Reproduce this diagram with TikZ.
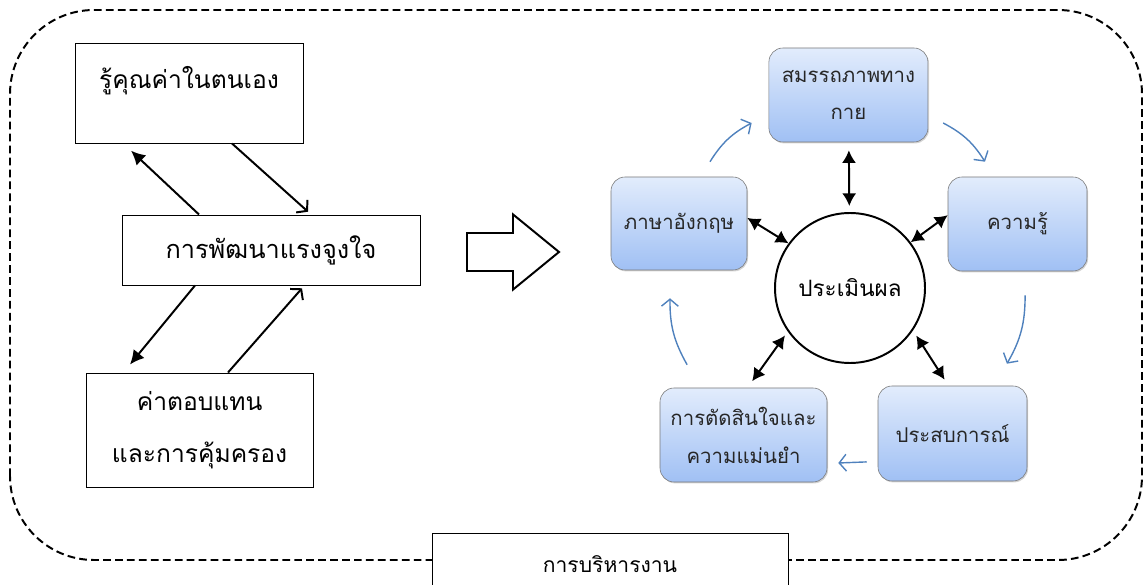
\documentclass[tikz,border=0pt]{standalone}
\usepackage{fontspec}
\setmainfont[Script=Thai]{Loma}
\usepackage{tikz}
\usetikzlibrary{shapes,arrows.meta,positioning,shadows}
\definecolor{cycleblue}{RGB}{79,129,189}
\definecolor{boxtop}{RGB}{226,236,252}
\definecolor{boxbottom}{RGB}{160,192,244}
\definecolor{boxedge}{RGB}{120,120,120}

\begin{document}
\begin{tikzpicture}[
    font=\fontsize{18}{26}\selectfont,
    leftbox/.style={rectangle, draw, line width=0.7pt, fill=white, align=center},
    skill/.style={rectangle, draw=boxedge, rounded corners=0.35cm, top color=boxtop, bottom color=boxbottom, drop shadow={shadow xshift=0.8pt, shadow yshift=-1pt, opacity=0.35}, align=center, text=black!85, font=\fontsize{14.5}{27}\selectfont},
    solidarrow/.style={line width=1.4pt, -{Latex[length=10pt,width=10pt]}},
    openarrow/.style={line width=1.4pt, -{Straight Barb[length=5pt,width=12pt]}},
    dblarrow/.style={line width=1.4pt, {Latex[length=9pt,width=10pt]}-{Latex[length=9pt,width=10pt]}},
    cyclearrow/.style={line width=1pt, draw=cycleblue, -{Straight Barb[length=5pt,width=12pt]}, bend left=15}
]
\useasboundingbox (0,0) rectangle (28.6,14.6);
\clip (0,0) rectangle (28.6,14.6);

% outer frame
\draw[line width=1.4pt, dash pattern=on 5.5pt off 3pt, rounded corners=2.1cm] (0.25,0.6) rectangle (28.55,14.35);

% left side
\node[leftbox, minimum width=5.7cm, minimum height=2.5cm, text height=0.6cm, text depth=0.8cm, font=\fontsize{17.5}{26}\selectfont] (self) at (4.725,12.275) {รู้คุณค่าในตนเอง};
\node[leftbox, minimum width=7.45cm, minimum height=1.75cm] (motive) at (6.775,8.35) {การพัฒนาแรงจูงใจ};
\node[leftbox, minimum width=5.675cm, minimum height=2.85cm, font=\fontsize{17.5}{37}\selectfont] (reward) at (4.99,3.85) {ค่าตอบแทน\\และการคุ้มครอง};

\draw[solidarrow] ([xshift=-1.8cm]motive.north) -- ([xshift=-1.45cm,yshift=-0.18cm]self.south);
\draw[openarrow] ([xshift=1.075cm]self.south) -- ([xshift=0.925cm,yshift=0.07cm]motive.north);
\draw[solidarrow] ([xshift=-1.9cm]motive.south) -- ([xshift=-1.74cm,yshift=0.2cm]reward.north);
\draw[openarrow] ([xshift=0.71cm]reward.north) -- ([xshift=0.775cm,yshift=-0.07cm]motive.south);

% block arrow
\draw[line width=1.4pt, fill=white] (11.675,8.775) -- (12.825,8.775) -- (12.825,9.24) -- (13.975,8.3) -- (12.825,7.36) -- (12.825,7.825) -- (11.675,7.825) -- cycle;

% right side
\node[draw, circle, line width=1.4pt, minimum size=3.75cm, font=\fontsize{16}{20}\selectfont] (eval) at (21.25,7.4) {ประเมินผล};
\node[skill, minimum width=3.975cm, minimum height=2.35cm] (phys) at (21.21,12.225) {สมรรถภาพทาง\\กาย};
\node[skill, minimum width=3.4cm, minimum height=2.325cm] (eng) at (16.975,9.0125) {ภาษาอังกฤษ};
\node[skill, minimum width=3.475cm, minimum height=2.35cm] (know) at (25.4375,9.0) {ความรู้};
\node[skill, minimum width=3.725cm, minimum height=2.375cm] (exp) at (23.8125,3.7625) {ประสบการณ์};
\node[skill, minimum width=4.175cm, minimum height=2.35cm] (dec) at (18.5875,3.725) {การตัดสินใจและ\\ความแม่นยำ};

\draw[dblarrow, shorten <=0.2cm, shorten >=0.15cm] (phys) -- (eval);
\draw[dblarrow] ([yshift=0.14cm]eng.east) -- (eval.144);
\draw[dblarrow] ([yshift=0.22cm]know.west) -- (eval.37);
\draw[dblarrow, shorten <=0.15cm, shorten >=0.18cm] (eval.-34) -- ([xshift=-0.1cm]exp.north);
\draw[dblarrow, shorten <=0.12cm, shorten >=0.2cm] (eval.-145) -- ([xshift=0.1cm]dec.north);

% cycle
\draw[cyclearrow] ([xshift=0.775cm,yshift=0.375cm]eng.north) to ([xshift=-0.425cm,yshift=-0.7cm]phys.west);
\draw[cyclearrow] ([xshift=0.375cm,yshift=-0.7cm]phys.east) to ([xshift=-0.8125cm,yshift=0.375cm]know.north);
\draw[cyclearrow] ([xshift=0.19cm,yshift=-0.6cm]know.south) to ([xshift=1.36cm,yshift=0.55cm]exp.north);
\draw[cyclearrow] ([xshift=-0.275cm,yshift=-0.71cm]exp.west) -- ([xshift=0.275cm,yshift=-0.7cm]dec.east);
\draw[cyclearrow] ([xshift=-1.41cm,yshift=0.575cm]dec.north) to ([xshift=-0.225cm,yshift=-0.7cm]eng.south);

% bottom
\node[leftbox, line width=0.6pt, minimum width=8.9cm, minimum height=1.55cm, font=\fontsize{15}{20}\selectfont] (admin) at (15.25,0.5) {การบริหารงาน};

\end{tikzpicture}
\end{document}
